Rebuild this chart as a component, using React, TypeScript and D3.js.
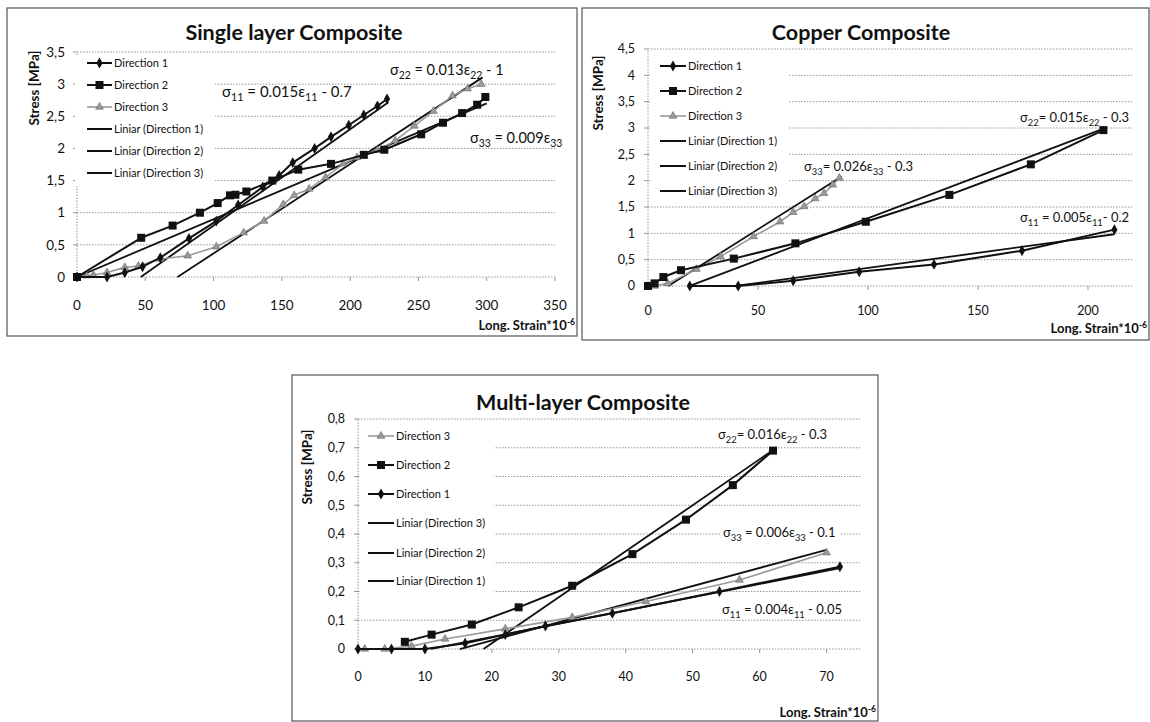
import React from "react";
import * as d3 from "d3";

type Pt = [number, number];

// ---------------- Single layer composite ----------------
const singleXTicks = [0, 50, 100, 150, 200, 250, 300, 350];
const singleYTicks = [0, 0.5, 1, 1.5, 2, 2.5, 3, 3.5];
const singleDir1: Pt[] = [
  [0, 0], [22, 0], [35, 0.07], [48, 0.16], [61, 0.3], [82, 0.6], [102, 0.87], [118, 1.12],
  [136, 1.4], [148, 1.58], [158, 1.78], [174, 2.0], [186, 2.18], [199, 2.36], [210, 2.52],
  [220, 2.66], [227, 2.77],
];
const singleDir2: Pt[] = [
  [0, 0], [47, 0.61], [70, 0.8], [90, 1.0], [103, 1.15], [112, 1.27], [116, 1.28], [124, 1.33],
  [143, 1.5], [162, 1.67], [186, 1.76], [210, 1.9], [225, 1.98], [252, 2.22], [268, 2.4],
  [282, 2.55], [293, 2.68], [299, 2.8],
];
const singleDir3: Pt[] = [
  [0, 0], [7, 0.02], [12, 0.03], [22, 0.07], [35, 0.15], [45, 0.17], [61, 0.28], [81, 0.33],
  [102, 0.47], [122, 0.69], [137, 0.87], [151, 1.13], [159, 1.27], [170, 1.37], [182, 1.55],
  [195, 1.76], [205, 1.86], [220, 1.97], [233, 2.12], [247, 2.35], [261, 2.58], [275, 2.82],
  [286, 2.93], [296, 3.0],
];
// trend lines: [slope, intercept, xFrom, xTo]
const singleFit1 = [0.015, -0.7, 46.7, 228];
const singleFit2 = [0.009, 0, 0, 300];
const singleFit3 = [0.0139, -1.023, 73.6, 297];

// ---------------- Copper composite ----------------
const copperXTicks = [0, 50, 100, 150, 200];
const copperYTicks = [0, 0.5, 1, 1.5, 2, 2.5, 3, 3.5, 4, 4.5];
const copperDir1: Pt[] = [
  [19, 0], [41, 0], [66, 0.1], [96, 0.27], [130, 0.41], [170, 0.67], [212, 1.07],
];
const copperDir2: Pt[] = [
  [0, 0], [3, 0.05], [7, 0.17], [15, 0.3], [39, 0.52], [67, 0.81], [99, 1.22], [137, 1.73],
  [174, 2.31], [207, 2.96],
];
const copperDir3: Pt[] = [
  [0, 0], [3, 0], [9, 0.05], [22, 0.32], [33, 0.56], [48, 0.94], [60, 1.22], [66, 1.4],
  [71, 1.51], [76, 1.66], [80, 1.76], [84, 1.92], [87, 2.05],
];
const copperFit1 = [0.0057, -0.226, 39.6, 212];
const copperFit2 = [0.01587, -0.3, 19, 208];
const copperFit3 = [0.0264, -0.243, 9.2, 88];

// ---------------- Multi-layer composite ----------------
const multiXTicks = [0, 10, 20, 30, 40, 50, 60, 70];
const multiYTicks = [0, 0.1, 0.2, 0.3, 0.4, 0.5, 0.6, 0.7, 0.8];
const multiDir1: Pt[] = [
  [0, 0], [5, 0], [10, 0], [16, 0.02], [22, 0.05], [28, 0.08], [38, 0.124], [54, 0.2], [72, 0.286],
];
const multiDir2: Pt[] = [
  [7, 0.025], [11, 0.05], [17, 0.085], [24, 0.145], [32, 0.22], [41, 0.33], [49, 0.45],
  [56, 0.57], [62, 0.69],
];
const multiDir3: Pt[] = [
  [1, 0], [4, 0], [8, 0.01], [13, 0.035], [22, 0.07], [32, 0.11], [43, 0.165], [57, 0.24],
  [70, 0.335],
];
const multiFit1 = [0.0046, -0.05, 10.9, 72];
const multiFit2 = [0.016, -0.3, 18.75, 62];
const multiFit3 = [0.0063, -0.096, 15.2, 70];

// ---------------- rendering ----------------
const FONT = "Lato, 'Open Sans', Arial, sans-serif";

type Kind = "d1" | "d2" | "d3" | "fit";
interface Series { data: Pt[]; kind: Kind }
interface Eq { text: string; x: number; y: number; size: number; bg?: number }
interface PanelCfg {
  box: [number, number, number, number];
  xDomain: [number, number]; xRange: [number, number];
  yDomain: [number, number]; yRange: [number, number];
  xTicks: number[]; yTicks: number[];
  tickSize: number; yTickRight: number; xTickY: number;
  title: string; titleX: number; titleY: number;
  yTitleX: number; yTitleY: number;
  xTitleRight: number; xTitleY: number;
  legendBg: [number, number, number, number];
  legendLine: [number, number]; legendTextX: number; legendRows: number[];
  legendItems: { label: string; kind: Kind }[];
  series: Series[];
  fits: number[][];
  eqs: Eq[];
}

const GRID = "#8a8a8a";

function Marker({ kind, cx, cy }: { kind: Kind; cx: number; cy: number }) {
  if (kind === "d1") {
    const p = d3.symbol().type(d3.symbolDiamond).size(34)();
    return <path d={p || ""} transform={`translate(${cx},${cy})`} fill="#111" />;
  }
  if (kind === "d2") {
    return <rect x={cx - 4} y={cy - 4} width={8} height={8} fill="#111" />;
  }
  if (kind === "d3") {
    const p = d3.symbol().type(d3.symbolTriangle).size(26)();
    return <path d={p || ""} transform={`translate(${cx},${cy})`} fill="#9a9a9a" stroke="#666" strokeWidth={0.6} />;
  }
  return null;
}

function EqText({ eq }: { eq: Eq }) {
  const parts = eq.text.split(/(_\{[^}]*\})/).filter((s) => s.length);
  const out: React.ReactNode[] = [];
  let shifted = false;
  parts.forEach((s, i) => {
    const m = s.match(/^_\{([^}]*)\}$/);
    if (m) {
      out.push(
        <tspan key={i} dy={shifted ? 0 : eq.size * 0.28} fontSize={eq.size * 0.72}>{m[1]}</tspan>
      );
      shifted = true;
    } else {
      out.push(
        <tspan key={i} dy={shifted ? -eq.size * 0.28 : 0}>{s}</tspan>
      );
      shifted = false;
    }
  });
  return (
    <g>
      {eq.bg ? (
        <rect x={eq.x - 2} y={eq.y - eq.size * 0.85} width={eq.bg} height={eq.size * 1.3} fill="#fff" />
      ) : null}
      <text x={eq.x} y={eq.y} fontSize={eq.size} fontFamily={FONT} fill="#111">{out}</text>
    </g>
  );
}

function Panel({ p }: { p: PanelCfg }) {
  const x = d3.scaleLinear().domain(p.xDomain).range(p.xRange);
  const y = d3.scaleLinear().domain(p.yDomain).range(p.yRange);
  const line = d3.line<Pt>().x((d) => x(d[0])).y((d) => y(d[1]));
  const [bx0, by0, bx1, by1] = p.box;
  const [x0, x1] = p.xRange;
  const y0 = p.yRange[0];
  const fmt = (v: number) => String(+v.toFixed(2)).replace(".", ",");
  const [lx0, ly0, lx1, ly1] = p.legendBg;

  const styleOf = (k: Kind) =>
    k === "d1" ? { stroke: "#111", w: 2 } :
    k === "d2" ? { stroke: "#111", w: 2 } :
    k === "d3" ? { stroke: "#9a9a9a", w: 1.6 } : { stroke: "#111", w: 1.8 };

  return (
    <g>
      <rect x={bx0} y={by0} width={bx1 - bx0} height={by1 - by0} fill="#fff" stroke="#555" strokeWidth={1.2} />
      {/* grid */}
      {p.yTicks.map((t) => (
        <g key={"g" + t}>
          <line x1={x0} x2={x1} y1={y(t)} y2={y(t)} stroke={GRID} strokeWidth={0.9} strokeDasharray="1.5,1.5" />
          <line x1={x0 - 4} x2={x0} y1={y(t)} y2={y(t)} stroke={GRID} strokeWidth={0.9} />
        </g>
      ))}
      <line x1={x0} x2={x0} y1={y0} y2={p.yRange[1]} stroke={GRID} strokeWidth={0.9} strokeDasharray="1.5,1.5" />
      {p.xTicks.map((t) => (
        <line key={"xt" + t} x1={x(t)} x2={x(t)} y1={y0} y2={y0 + 4} stroke={GRID} strokeWidth={0.9} />
      ))}
      {/* legend background */}
      <rect x={lx0} y={ly0} width={lx1 - lx0} height={ly1 - ly0} fill="#fff" />
      {/* tick labels */}
      {p.yTicks.map((t) => (
        <text key={"yl" + t} x={p.yTickRight} y={y(t)} dy="0.35em" textAnchor="end" fontSize={p.tickSize} fontFamily={FONT} fill="#111">{fmt(t)}</text>
      ))}
      {p.xTicks.map((t) => (
        <text key={"xl" + t} x={x(t)} y={p.xTickY} textAnchor="middle" fontSize={p.tickSize} fontFamily={FONT} fill="#111">{fmt(t)}</text>
      ))}
      {/* titles */}
      <text x={p.titleX} y={p.titleY} textAnchor="middle" fontSize={21.5} fontWeight={700} fontFamily={FONT} fill="#111">{p.title}</text>
      <text transform={`translate(${p.yTitleX},${p.yTitleY}) rotate(-90)`} textAnchor="middle" dy="0.35em" fontSize={13.5} fontWeight={700} fontFamily={FONT} fill="#111">Stress [MPa]</text>
      <text x={p.xTitleRight} y={p.xTitleY} textAnchor="end" fontSize={13} fontWeight={700} fontFamily={FONT} fill="#111">
        Long. Strain*10<tspan dy={-5} fontSize={8.5}>-6</tspan>
      </text>
      {/* fits */}
      {p.fits.map((f, i) => {
        const pts: Pt[] = [[f[2], f[0] * f[2] + f[1]], [f[3], f[0] * f[3] + f[1]]];
        return <path key={"f" + i} d={line(pts) || ""} fill="none" stroke="#111" strokeWidth={1.8} />;
      })}
      {/* series */}
      {p.series.map((s, i) => {
        const st = styleOf(s.kind);
        return (
          <g key={"s" + i}>
            <path d={line(s.data) || ""} fill="none" stroke={st.stroke} strokeWidth={st.w} strokeLinejoin="round" />
            {s.data.map((d, j) => (
              <Marker key={j} kind={s.kind} cx={x(d[0])} cy={y(d[1])} />
            ))}
          </g>
        );
      })}
      {/* legend */}
      {p.legendItems.map((it, i) => {
        const ry = p.legendRows[i];
        const st = styleOf(it.kind);
        const mx = (p.legendLine[0] + p.legendLine[1]) / 2;
        return (
          <g key={"l" + i}>
            <line x1={p.legendLine[0]} x2={p.legendLine[1]} y1={ry} y2={ry} stroke={st.stroke} strokeWidth={it.kind === "fit" ? 2 : st.w} />
            <Marker kind={it.kind} cx={mx} cy={ry} />
            <text x={p.legendTextX} y={ry} dy="0.35em" fontSize={11} fontFamily={FONT} fill="#111">{it.label}</text>
          </g>
        );
      })}
      {p.eqs.map((e, i) => <EqText key={"e" + i} eq={e} />)}
    </g>
  );
}

const legend123 = [
  { label: "Direction 1", kind: "d1" as Kind },
  { label: "Direction 2", kind: "d2" as Kind },
  { label: "Direction 3", kind: "d3" as Kind },
  { label: "Liniar (Direction 1)", kind: "fit" as Kind },
  { label: "Liniar (Direction 2)", kind: "fit" as Kind },
  { label: "Liniar (Direction 3)", kind: "fit" as Kind },
];
const legend321 = [
  { label: "Direction 3", kind: "d3" as Kind },
  { label: "Direction 2", kind: "d2" as Kind },
  { label: "Direction 1", kind: "d1" as Kind },
  { label: "Liniar (Direction 3)", kind: "fit" as Kind },
  { label: "Liniar (Direction 2)", kind: "fit" as Kind },
  { label: "Liniar (Direction 1)", kind: "fit" as Kind },
];

const singlePanel: PanelCfg = {
  box: [7, 8, 577, 336],
  xDomain: [0, 350], xRange: [77, 555], yDomain: [0, 3.5], yRange: [277, 52],
  xTicks: singleXTicks, yTicks: singleYTicks,
  tickSize: 13.5, yTickRight: 65, xTickY: 310,
  title: "Single layer Composite", titleX: 294, titleY: 40,
  yTitleX: 34, yTitleY: 88,
  xTitleRight: 575, xTitleY: 330,
  legendBg: [75, 55, 214, 186], legendLine: [87, 112], legendTextX: 114,
  legendRows: [63, 85, 107, 129, 151, 173], legendItems: legend123,
  series: [
    { data: singleDir3, kind: "d3" },
    { data: singleDir2, kind: "d2" },
    { data: singleDir1, kind: "d1" },
  ],
  fits: [singleFit1, singleFit2, singleFit3],
  eqs: [
    { text: "σ_{11} = 0.015ε_{11} - 0.7", x: 222, y: 97, size: 15 },
    { text: "σ_{22} = 0.013ε_{22} - 1", x: 390, y: 75, size: 14.5 },
    { text: "σ_{33}  = 0.009ε_{33}", x: 470, y: 143, size: 14.5 },
  ],
};

const copperPanel: PanelCfg = {
  box: [582, 8, 1149, 340],
  xDomain: [0, 220], xRange: [648, 1132], yDomain: [0, 4.5], yRange: [286, 49],
  xTicks: copperXTicks, yTicks: copperYTicks,
  tickSize: 12.5, yTickRight: 635, xTickY: 315,
  title: "Copper Composite", titleX: 861, titleY: 40,
  yTitleX: 598, yTitleY: 93,
  xTitleRight: 1147, xTitleY: 333,
  legendBg: [650, 55, 788, 198], legendLine: [660, 686], legendTextX: 688,
  legendRows: [66, 91, 116, 141, 166, 191], legendItems: legend123,
  series: [
    { data: copperDir3, kind: "d3" },
    { data: copperDir2, kind: "d2" },
    { data: copperDir1, kind: "d1" },
  ],
  fits: [copperFit1, copperFit2, copperFit3],
  eqs: [
    { text: "σ_{33}= 0.026ε_{33} - 0.3", x: 804, y: 171, size: 13 },
    { text: "σ_{22}= 0.015ε_{22} - 0.3", x: 1020, y: 122, size: 13 },
    { text: "σ_{11} = 0.005ε_{11}- 0.2", x: 1020, y: 222, size: 13 },
  ],
};

const multiPanel: PanelCfg = {
  box: [292, 375, 878, 721],
  xDomain: [0, 75], xRange: [358, 860], yDomain: [0, 0.8], yRange: [649, 419],
  xTicks: multiXTicks, yTicks: multiYTicks,
  tickSize: 12.5, yTickRight: 345, xTickY: 681,
  title: "Multi-layer Composite", titleX: 583, titleY: 410,
  yTitleX: 307, yTitleY: 467,
  xTitleRight: 876, xTitleY: 717,
  legendBg: [360, 425, 494, 600], legendLine: [368, 394], legendTextX: 396,
  legendRows: [436, 465, 494, 523, 553, 581], legendItems: legend321,
  series: [
    { data: multiDir3, kind: "d3" },
    { data: multiDir2, kind: "d2" },
    { data: multiDir1, kind: "d1" },
  ],
  fits: [multiFit1, multiFit2, multiFit3],
  eqs: [
    { text: "σ_{22}= 0.016ε_{22} - 0.3", x: 718, y: 439, size: 13 },
    { text: "σ_{33} = 0.006ε_{33} - 0.1", x: 723, y: 537, size: 13, bg: 120 },
    { text: "σ_{11} = 0.004ε_{11} - 0.05", x: 722, y: 614, size: 13 },
  ],
};

export default function App() {
  return (
    <svg width={1150} height={722} style={{ position: "absolute", left: 0, top: 0, background: "#fff" }}>
      <rect x={0} y={0} width={1150} height={722} fill="#fff" />
      <Panel p={singlePanel} />
      <Panel p={copperPanel} />
      <Panel p={multiPanel} />
    </svg>
  );
}
